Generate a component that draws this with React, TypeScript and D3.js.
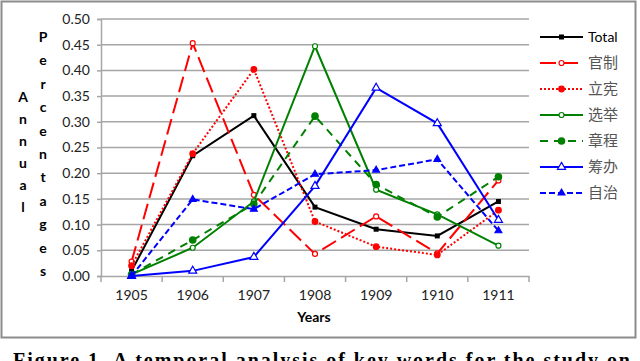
import React, { useEffect, useRef } from 'react';
import * as d3 from 'd3';

const years = ['1905', '1906', '1907', '1908', '1909', '1910', '1911'];
const yTicks = [0, 0.05, 0.1, 0.15, 0.2, 0.25, 0.3, 0.35, 0.4, 0.45, 0.5];

const total = [0.01, 0.234, 0.312, 0.134, 0.091, 0.078, 0.145];
const guanzhi = [0.028, 0.453, 0.158, 0.043, 0.116, 0.044, 0.186];
const lixian = [0.02, 0.238, 0.402, 0.106, 0.057, 0.041, 0.128];
const xuanju = [0.003, 0.055, 0.145, 0.447, 0.168, 0.12, 0.059];
const zhangcheng = [0.003, 0.07, 0.14, 0.311, 0.178, 0.115, 0.193];
const choubai = [0.0, 0.01, 0.037, 0.175, 0.366, 0.297, 0.109];
const zizhi = [0.0, 0.149, 0.13, 0.198, 0.206, 0.227, 0.088];

const seriesList = [
    { name: 'Total', values: total, color: '#000000', dash: null, marker: 'square', fill: true },
    { name: '官制', values: guanzhi, color: '#ff0000', dash: '16,6', marker: 'circle', fill: false },
    { name: '立宪', values: lixian, color: '#ff0000', dash: '2,2', marker: 'circle', fill: true },
    { name: '选举', values: xuanju, color: '#008000', dash: null, marker: 'circle', fill: false },
    { name: '章程', values: zhangcheng, color: '#008000', dash: '8,6', marker: 'bigcircle', fill: true },
    { name: '筹办', values: choubai, color: '#0000ff', dash: null, marker: 'triangle', fill: false },
    { name: '自治', values: zizhi, color: '#0000ff', dash: '6,3', marker: 'triangle', fill: true },
];

const annual = 'Annual'.split('');
const percentages = 'Percentages'.split('');

const App = () => {
    const ref = useRef(null);

    useEffect(() => {
        const svg = d3.select(ref.current);
        svg.selectAll('*').remove();

        const x = d3.scaleBand().domain(years).range([101, 529]);
        const y = d3.scaleLinear().domain([0, 0.5]).range([276, 19]);
        const cx = d => x(d) + x.bandwidth() / 2;

        // outer frame
        svg.append('rect')
            .attr('x', 1.5).attr('y', 1.5)
            .attr('width', 634).attr('height', 336)
            .attr('fill', 'white')
            .attr('stroke', '#8c8c8c')
            .attr('stroke-width', 2);

        // gridlines
        svg.selectAll('.grid')
            .data(yTicks.slice(1))
            .enter()
            .append('line')
            .attr('x1', 101).attr('x2', 529)
            .attr('y1', d => y(d)).attr('y2', d => y(d))
            .attr('stroke', '#a6a6a6')
            .attr('stroke-width', 1.5);

        // y axis
        const yAxis = svg.append('g')
            .attr('transform', 'translate(101,0)')
            .call(d3.axisLeft(y).tickValues(yTicks).tickFormat(d3.format('.2f')).tickSize(4).tickPadding(7));
        yAxis.select('.domain').attr('stroke', '#a6a6a6').attr('stroke-width', 1.5);
        yAxis.selectAll('line').attr('stroke', '#a6a6a6').attr('stroke-width', 1.5);
        yAxis.selectAll('text')
            .attr('font-family', 'Lato, sans-serif')
            .attr('font-size', 14)
            .attr('fill', '#222');

        // x axis
        const xAxis = svg.append('g')
            .attr('transform', 'translate(0,276)')
            .call(d3.axisBottom(x).tickSize(0).tickPadding(14));
        xAxis.select('.domain').attr('stroke', '#a6a6a6').attr('stroke-width', 1.5);
        xAxis.selectAll('text')
            .attr('font-family', 'Lato, sans-serif')
            .attr('font-size', 14)
            .attr('fill', '#222');
        svg.selectAll('.xtick')
            .data(d3.range(years.length + 1))
            .enter()
            .append('line')
            .attr('x1', i => 101 + i * x.step()).attr('x2', i => 101 + i * x.step())
            .attr('y1', 276).attr('y2', 282)
            .attr('stroke', '#a6a6a6')
            .attr('stroke-width', 1.5);

        // axis titles
        svg.append('text')
            .attr('x', 314).attr('y', 322)
            .attr('text-anchor', 'middle')
            .attr('font-family', 'Lato, sans-serif')
            .attr('font-weight', 'bold')
            .attr('font-size', 14)
            .text('Years');
        svg.selectAll('.annual')
            .data(annual)
            .enter()
            .append('text')
            .attr('x', 23).attr('y', (d, i) => 102 + i * 22)
            .attr('text-anchor', 'middle')
            .attr('font-family', 'Lato, sans-serif')
            .attr('font-weight', 'bold')
            .attr('font-size', 14)
            .text(d => d);
        svg.selectAll('.pct')
            .data(percentages)
            .enter()
            .append('text')
            .attr('x', 43).attr('y', (d, i) => 42 + i * 23.4)
            .attr('text-anchor', 'middle')
            .attr('font-family', 'Lato, sans-serif')
            .attr('font-weight', 'bold')
            .attr('font-size', 14)
            .text(d => d);

        const line = d3.line().x((d, i) => cx(years[i])).y(d => y(d));

        const drawMarker = (g, s, px, py) => {
            const fill = s.fill ? s.color : 'white';
            if (s.marker === 'square') {
                g.append('rect').attr('x', px - 2.5).attr('y', py - 2.5).attr('width', 5).attr('height', 5)
                    .attr('fill', fill);
            } else if (s.marker === 'circle') {
                g.append('circle').attr('cx', px).attr('cy', py).attr('r', s.fill ? 2.8 : 2.5)
                    .attr('fill', fill).attr('stroke', s.color).attr('stroke-width', 1.2);
            } else if (s.marker === 'bigcircle') {
                g.append('circle').attr('cx', px).attr('cy', py).attr('r', 3.8)
                    .attr('fill', fill);
            } else {
                const sym = d3.symbol().type(d3.symbolTriangle).size(s.fill ? 20 : 28);
                g.append('path').attr('d', sym()).attr('transform', `translate(${px},${py})`)
                    .attr('fill', fill).attr('stroke', s.color).attr('stroke-width', 1.2);
            }
        };

        seriesList.forEach(s => {
            const g = svg.append('g');
            g.append('path')
                .attr('d', line(s.values))
                .attr('fill', 'none')
                .attr('stroke', s.color)
                .attr('stroke-width', 2)
                .attr('stroke-dasharray', s.dash);
            s.values.forEach((v, i) => drawMarker(g, s, cx(years[i]), y(v)));
        });

        // legend
        const legend = svg.append('g');
        seriesList.forEach((s, i) => {
            const ly = 37 + i * 26;
            const g = legend.append('g');
            g.append('line')
                .attr('x1', 540).attr('x2', 583)
                .attr('y1', ly).attr('y2', ly)
                .attr('stroke', s.color)
                .attr('stroke-width', 2)
                .attr('stroke-dasharray', s.dash);
            drawMarker(g, s, 561.5, ly);
            g.append('text')
                .attr('x', 588).attr('y', ly + 5)
                .attr('font-family', i === 0 ? 'Lato, sans-serif' : '"Noto Sans CJK SC", sans-serif')
                .attr('font-size', i === 0 ? 14 : 15)
                .attr('fill', i === 0 ? '#000' : '#555')
                .text(s.name);
        });

        // caption (cut off at the bottom of the picture, as in the reference)
        svg.append('text')
            .attr('x', 13).attr('y', 367)
            .attr('font-family', '"Liberation Serif", serif')
            .attr('font-weight', 'bold')
            .attr('font-size', 20)
            .attr('textLength', 617)
            .text('Figure 1. A temporal analysis of key words for the study on');
    }, []);

    return (
        <svg ref={ref} width={640} height={361}
            style={{ position: 'absolute', left: 0, top: 0, background: 'white' }} />
    );
};

export default App;
